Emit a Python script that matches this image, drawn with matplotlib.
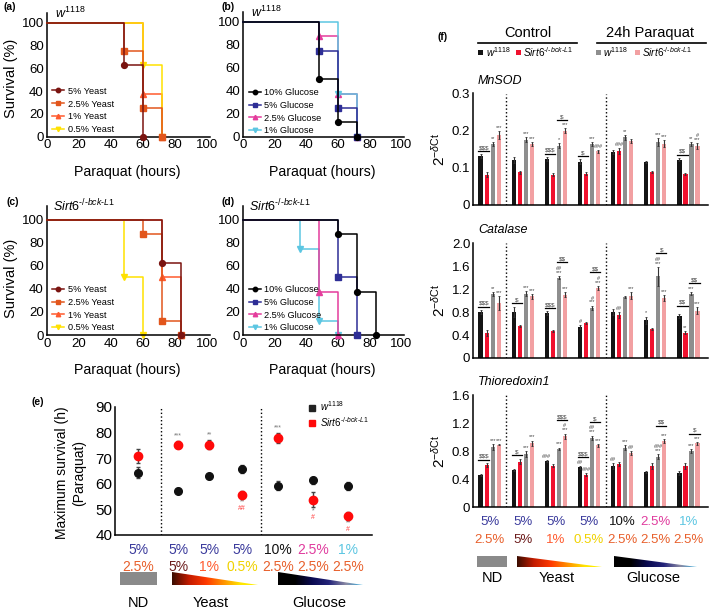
import numpy as np
import matplotlib
matplotlib.use('Agg')
import matplotlib.pyplot as plt
import matplotlib.transforms as mtransforms
from matplotlib import font_manager
from matplotlib.lines import Line2D
from matplotlib.patches import Rectangle, Polygon
from matplotlib.colors import LinearSegmentedColormap

avail = {f.name for f in font_manager.fontManager.ttflist}
base = 'Liberation Sans Narrow' if 'Liberation Sans Narrow' in avail else 'Liberation Sans'
plt.rcParams['font.family'] = [base, 'DejaVu Sans']
plt.rcParams['mathtext.fontset'] = 'custom'
plt.rcParams['mathtext.rm'] = base
plt.rcParams['mathtext.it'] = base + ':italic'
plt.rcParams['mathtext.bf'] = base + ':bold'

# ---------------- data ----------------
# survival curves: death event times (h) and % alive after each event
yeast_labels = ['5% Yeast', '2.5% Yeast', '1% Yeast', '0.5% Yeast']
yeast_colors = ['#7a1410', '#e2561c', '#ff5a2e', '#ffe100']
glucose_labels = ['10% Glucose', '5% Glucose', '2.5% Glucose', '1% Glucose']
glucose_colors = ['#000000', '#2e2e96', '#e43c9c', '#5cc6e2']
curve_markers = ['o', 's', '^', 'v']

a_times = [[48, 60], [48, 60, 72], [60, 72], [60, 72]]
a_surv = [[62.5, 0], [75, 25, 0], [37.5, 0], [62.5, 0]]
b_times = [[48, 60, 72], [48, 60, 72], [48, 60, 72], [60, 72]]
b_surv = [[50, 12.5, 0], [75, 25, 0], [87.5, 37.5, 0], [37.5, 0]]
c_times = [[72, 84], [60, 72, 84], [72, 84], [48, 60]]
c_surv = [[62.5, 0], [87.5, 12.5, 0], [50, 0], [50, 0]]
d_times = [[60, 72, 84], [60, 72], [48, 60], [36, 48, 60]]
d_surv = [[87.5, 37.5, 0], [50, 0], [37.5, 0], [75, 12.5, 0]]

# maximum survival (e)
e_w_mean = [64.4, 57.3, 62.9, 65.8, 59.2, 61.3, 59.2]
e_w_err = [2.3, 1.0, 1.0, 1.5, 1.8, 1.5, 1.5]
e_s_mean = [70.9, 75.3, 75.3, 55.8, 77.9, 53.8, 47.5]
e_s_err = [2.6, 1.5, 1.8, 1.5, 1.8, 3.0, 1.5]
e_above = {1: '***', 2: '**', 4: '***'}
e_below = {3: [('**', '#777777'), ('##', '#ff4040')],
           5: [('*', '#777777'), ('#', '#ff4040')],
           6: [('**', '#777777'), ('#', '#ff4040')]}

# diet labels (protein % / sugar %)
diet_top = ['5%', '5%', '5%', '5%', '10%', '2.5%', '1%']
diet_top_colors = ['#3a3a9c', '#3a3a9c', '#3a3a9c', '#3a3a9c', '#111111', '#e03c9e', '#5cc6e2']
diet_bot = ['2.5%', '5%', '1%', '0.5%', '2.5%', '2.5%', '2.5%']
diet_bot_colors = ['#e8602c', '#6b1a1a', '#ff5a2e', '#f0d200', '#e8602c', '#e8602c', '#e8602c']

# qPCR (f): per diet group [w1118 ctrl, Sirt6 ctrl, w1118 PQ, Sirt6 PQ]
mnsod = [[0.131, 0.082, 0.165, 0.188], [0.122, 0.088, 0.176, 0.164],
         [0.124, 0.082, 0.160, 0.200], [0.117, 0.084, 0.164, 0.145],
         [0.142, 0.145, 0.182, 0.172], [0.115, 0.089, 0.169, 0.165],
         [0.122, 0.084, 0.164, 0.158]]
mnsod_err = [[0.005, 0.006, 0.005, 0.011], [0.008, 0.004, 0.006, 0.005],
             [0.005, 0.003, 0.006, 0.006], [0.006, 0.004, 0.005, 0.004],
             [0.006, 0.008, 0.006, 0.005], [0.003, 0.003, 0.010, 0.009],
             [0.004, 0.003, 0.005, 0.008]]
catalase = [[0.80, 0.44, 1.11, 0.96], [0.80, 0.56, 1.12, 1.07],
            [0.78, 0.47, 1.40, 1.10], [0.54, 0.61, 0.87, 1.22],
            [0.80, 0.75, 1.06, 1.08], [0.66, 0.51, 1.42, 1.04],
            [0.73, 0.44, 1.12, 0.82]]
catalase_err = [[0.03, 0.05, 0.03, 0.12], [0.09, 0.02, 0.05, 0.04],
                [0.03, 0.01, 0.03, 0.04], [0.03, 0.02, 0.04, 0.03],
                [0.05, 0.05, 0.02, 0.06], [0.06, 0.02, 0.16, 0.05],
                [0.03, 0.03, 0.03, 0.06]]
thio = [[0.46, 0.60, 0.86, 0.89], [0.53, 0.65, 0.76, 0.91],
        [0.66, 0.59, 0.83, 1.01], [0.57, 0.46, 0.99, 0.88],
        [0.59, 0.62, 0.85, 0.77], [0.50, 0.59, 0.72, 0.94],
        [0.49, 0.59, 0.80, 0.91]]
thio_err = [[0.01, 0.03, 0.04, 0.01], [0.02, 0.04, 0.04, 0.04],
            [0.01, 0.02, 0.02, 0.04], [0.02, 0.02, 0.03, 0.02],
            [0.04, 0.03, 0.04, 0.03], [0.01, 0.04, 0.04, 0.03],
            [0.03, 0.04, 0.03, 0.02]]

# significance marks: (group, bar, text) and brackets (group, first bar, text)
mnsod_stars = [(0, 2, '**'), (0, 3, '***'), (1, 2, '***'), (1, 3, '***'),
               (2, 2, '*'), (2, 3, '***'), (3, 2, '***'), (3, 3, '###'),
               (4, 1, '###'), (4, 2, '**'), (5, 2, '***'), (5, 3, '***'),
               (6, 2, '**'), (6, 3, '#\n***')]
mnsod_br = [(0, 0, '$$$'), (2, 0, '$$$'), (2, 2, '$'), (3, 0, '$'), (6, 0, '$$')]
catalase_stars = [(0, 2, '**'), (0, 3, '***'), (1, 2, '***'), (1, 3, '***'),
                  (2, 2, '##\n***'), (2, 3, '***'), (3, 0, '#'), (3, 2, '#\n***'),
                  (3, 3, '#\n***'), (4, 1, '##'), (4, 3, '***'), (5, 0, '*'),
                  (5, 2, '##\n***'), (5, 3, '***'), (6, 1, '**'), (6, 2, '***'),
                  (6, 3, '***')]
catalase_br = [(0, 0, '$$$'), (1, 0, '$'), (2, 0, '$$$'), (2, 2, '$$'), (3, 2, '$$'),
               (5, 2, '$'), (6, 0, '$$'), (6, 2, '$$')]
thio_stars = [(0, 2, '***'), (0, 3, '***'), (1, 2, '***'), (1, 3, '***'),
              (2, 0, '###'), (2, 2, '***'), (2, 3, '#\n***'), (3, 0, '##'),
              (3, 1, '###'), (3, 2, '##\n***'), (3, 3, '***'), (4, 0, '##'),
              (4, 2, '***'), (4, 3, '##'), (5, 2, '###\n***'), (5, 3, '***'),
              (6, 2, '***'), (6, 3, '***')]
thio_br = [(0, 0, '$$$'), (1, 0, '$'), (2, 2, '$$$'), (3, 0, '$$$'), (3, 2, '$'),
           (5, 2, '$$'), (6, 2, '$')]

bar_colors = ['#141414', '#f0112e', '#8e8e8e', '#f2a0a2']

# ---------------- layout helpers ----------------
W, H = 709, 614
fig = plt.figure(figsize=(W / 100, H / 100), dpi=100)


def px_axes(x0, ytop, x1, ybot):
    return fig.add_axes([x0 / W, 1 - ybot / H, (x1 - x0) / W, (ybot - ytop) / H])


def ftext(x, y, s, **kw):
    return fig.text(x / W, 1 - y / H, s, **kw)


def clean(ax):
    for s in ['top', 'right']:
        ax.spines[s].set_visible(False)
    for s in ['left', 'bottom']:
        ax.spines[s].set_linewidth(1.1)
    ax.tick_params(length=0, pad=2)


def survival(box, ytop, times, surv, labels, colors, zord, title, tx, leg_xy):
    ax = px_axes(*box)
    for t, s, lab, c, m, z in zip(times, surv, labels, colors, curve_markers, zord):
        ax.step([0] + t, [100] + s, where='post', color=c, lw=1.1, zorder=z, clip_on=False)
        ax.plot(t, s, ls='none', marker=m, color=c, ms=4.2, zorder=z + 0.5, clip_on=False)
    ax.set_xlim(0, 102)
    ax.set_ylim(0, ytop)
    ax.set_xticks(range(0, 101, 20))
    ax.set_yticks(range(0, 101, 20))
    ax.tick_params(labelsize=9.5)
    clean(ax)
    handles = [Line2D([], [], color=c, marker=m, ms=3.2, lw=1.1)
               for c, m in zip(colors, curve_markers)]
    ax.legend(handles, labels, loc='lower left', bbox_to_anchor=leg_xy, fontsize=6.6,
              frameon=False, handlelength=1.3, handletextpad=0.4, labelspacing=0.42,
              borderpad=0, borderaxespad=0)
    ax.text(tx, 1.0, title, transform=ax.transAxes, fontsize=9, va='center', ha='left')
    return ax


hy = '\u2010'
w_lab = r'$\mathit{w^{1118}}$'
s_lab = r'$\mathit{Sirt6^{' + hy + '/' + hy + 'bck' + hy + 'L1}}$'

survival((46.7, 13, 210, 136.7), 108.5, a_times, a_surv, yeast_labels, yeast_colors,
         [4, 3, 1, 2], w_lab, 0.05, (0.035, 0.02))
survival((243, 12, 404, 136.7), 108.5, b_times, b_surv, glucose_labels, glucose_colors,
         [4, 3, 1, 2], w_lab, 0.05, (0.035, 0.01))
survival((46.7, 206, 210, 335), 112, c_times, c_surv, yeast_labels, yeast_colors,
         [4, 3, 2, 1], s_lab, 0.04, (0.035, 0.02))
survival((243, 206, 404, 335), 112, d_times, d_surv, glucose_labels, glucose_colors,
         [4, 3, 2, 1], s_lab, 0.04, (0.035, 0.02))

for y in [78, 278]:
    ftext(11, y, 'Survival (%)', rotation=90, fontsize=10.5, ha='center', va='center')
for x, y in [(127, 172), (322, 172), (127, 370), (322, 370)]:
    ftext(x, y, 'Paraquat (hours)', fontsize=10.2, ha='center', va='center')

for x, y, s in [(3, 7, '(a)'), (221, 7, '(b)'), (6, 202, '(c)'), (222, 202, '(d)'),
                (32, 402, '(e)'), (438, 37, '(f)')]:
    ftext(x, y, s, fontsize=7.5, fontweight='bold', ha='left', va='center')


def grad_triangle(x0, x1, ytop, ybot, cols):
    ax = px_axes(x0, ytop, x1, ybot)
    ax.set_axis_off()
    cmap = LinearSegmentedColormap.from_list('g', cols)
    grad = np.linspace(0, 1, 256).reshape(1, -1)
    im = ax.imshow(grad, cmap=cmap, aspect='auto', extent=[0, 1, 0, 1])
    tri = Polygon([[0, 0], [0, 1], [1, 0]], closed=True, transform=ax.transData)
    im.set_clip_path(tri)
    ax.set_xlim(0, 1)
    ax.set_ylim(0, 1)


yeast_grad = ['#3a0c00', '#c41c00', '#ff3a00', '#ff9200', '#ffe600', '#fff200']
glucose_grad = ['#000000', '#000000', '#0a0a50', '#24247a', '#8a8aa4', '#3aaee0']


def diet_footer(ax, xs, y1, y2, nd_box, yeast_box, glu_box, ylab, nd_x, yeast_x, glu_x, fs):
    tr = mtransforms.blended_transform_factory(ax.transData, fig.transFigure)
    for x, s, c in zip(xs, diet_top, diet_top_colors):
        ax.text(x, 1 - y1 / H, s, transform=tr, color=c, fontsize=fs, ha='center',
                va='center', clip_on=False)
    for x, s, c in zip(xs, diet_bot, diet_bot_colors):
        ax.text(x, 1 - y2 / H, s, transform=tr, color=c, fontsize=fs, ha='center',
                va='center', clip_on=False)
    x0, x1, yt, yb = nd_box
    fig.add_artist(Rectangle((x0 / W, 1 - yb / H), (x1 - x0) / W, (yb - yt) / H,
                             transform=fig.transFigure, color='#8a8a8a', lw=0))
    grad_triangle(*yeast_box, yeast_grad)
    grad_triangle(*glu_box, glucose_grad)
    for x, s in [(nd_x, 'ND'), (yeast_x, 'Yeast'), (glu_x, 'Glucose')]:
        ftext(x, ylab, s, fontsize=10.5, ha='center', va='center')


# ---------------- panel (e) ----------------
e_pos = [0, 1.18, 2.09, 3.06, 4.12, 5.15, 6.18]
ax_e = px_axes(115, 407, 372, 535)
ax_e.errorbar(e_pos, e_w_mean, yerr=e_w_err, fmt='o', color='#111111', ms=5.5,
              ecolor='#444444', elinewidth=1, capsize=1.5, zorder=3)
ax_e.errorbar(e_pos, e_s_mean, yerr=e_s_err, fmt='o', color='#ff0a0a', ms=6,
              ecolor='#444444', elinewidth=1, capsize=1.5, zorder=4)
for i, s in e_above.items():
    ax_e.text(e_pos[i], e_s_mean[i] + e_s_err[i] + 0.7, s, fontsize=5, color='#777777',
              ha='center', va='bottom')
for i, items in e_below.items():
    for k, (s, c) in enumerate(items):
        ax_e.text(e_pos[i], e_s_mean[i] - e_s_err[i] - 1.3 - 2.7 * k, s, fontsize=5,
                  color=c, ha='center', va='center')
ax_e.axvline(0.68, color='k', ls=':', lw=1)
ax_e.axvline(3.62, color='k', ls=':', lw=1)
ax_e.set_xlim(-0.68, 6.88)
ax_e.set_ylim(40, 90)
ax_e.set_xticks([])
ax_e.set_yticks(range(40, 91, 10))
ax_e.tick_params(labelsize=11)
clean(ax_e)
ax_e.legend([Line2D([], [], ls='none', marker='s', color='#222222', ms=4.5),
             Line2D([], [], ls='none', marker='s', color='#ff0a0a', ms=4.5)],
            [w_lab, s_lab], loc='upper left', bbox_to_anchor=(0.755, 1.06), fontsize=7,
            frameon=False, handlelength=0.6, handletextpad=0.5, labelspacing=0.2,
            borderpad=0, borderaxespad=0)
ftext(62, 473, 'Maximum survival (h)', rotation=90, fontsize=10, ha='center', va='center')
ftext(79, 473, '(Paraquat)', rotation=90, fontsize=10, ha='center', va='center')
diet_footer(ax_e, e_pos, 550, 567, (120, 157, 572, 585), (172, 258, 572, 585),
            (278, 363, 572, 585), 603, 138, 211, 319, 10)

# ---------------- panel (f) ----------------
groups = np.arange(7) * 5.5
offsets = [-1.5, -0.5, 0.5, 1.5]


def bar_panel(box, vals, errs, ymax, ticks, tick_labels, title, stars, brackets):
    ax = px_axes(*box)
    vals = np.array(vals)
    errs = np.array(errs)
    for b in range(4):
        ax.bar(groups + offsets[b], vals[:, b], width=0.72, color=bar_colors[b],
               yerr=errs[:, b], error_kw=dict(ecolor='#333333', elinewidth=0.8,
                                              capsize=0.8, capthick=0.6), zorder=2)
    lh = 0.045 * ymax
    nlines = {}
    for g, b, s in stars:
        y = vals[g, b] + errs[g, b] + 0.01 * ymax
        ax.text(groups[g] + offsets[b], y, s, fontsize=4, color='#444444', ha='center',
                va='bottom', linespacing=0.75, zorder=3)
        nlines[(g, b)] = s.count('\n') + 1
    for g, b, s in brackets:
        top = max(vals[g, b] + errs[g, b], vals[g, b + 1] + errs[g, b + 1])
        n = max(nlines.get((g, b), 0), nlines.get((g, b + 1), 0))
        y = top + n * lh + 0.03 * ymax
        x0 = groups[g] + offsets[b] - 0.36
        x1 = groups[g] + offsets[b + 1] + 0.36
        ax.plot([x0, x1], [y, y], color='k', lw=0.9, zorder=3)
        ax.text((x0 + x1) / 2, y + 0.008 * ymax, s.replace('$', r'\$'), fontsize=4.5,
                color='#444444', ha='center', va='bottom', zorder=3)
    for xd in [(groups[0] + groups[1]) / 2, (groups[3] + groups[4]) / 2]:
        ax.axvline(xd, color='k', ls=':', lw=1, zorder=1)
    ax.set_xlim(-2.77, 36.26)
    ax.set_ylim(0, ymax)
    ax.set_xticks([])
    ax.set_yticks(ticks)
    ax.set_yticklabels(tick_labels)
    ax.tick_params(labelsize=9.5)
    clean(ax)
    ftext(478, box[1] - 13, title, fontsize=9, style='italic', ha='left', va='center')
    ftext(439, (box[1] + box[3]) / 2, r'$2^{-\delta\mathrm{Ct}}$', rotation=90,
          fontsize=11, ha='center', va='center')
    return ax


bar_panel((473, 93.5, 708, 205), mnsod, mnsod_err, 0.3, [0, 0.1, 0.2, 0.3],
          ['0', '0.1', '0.2', '0.3'], 'MnSOD', mnsod_stars, mnsod_br)
bar_panel((473, 243, 708, 358), catalase, catalase_err, 2.0, [0, 0.4, 0.8, 1.2, 1.6, 2.0],
          ['0', '0.4', '0.8', '1.2', '1.6', '2.0'], 'Catalase', catalase_stars, catalase_br)
ax_t = bar_panel((473, 395, 708, 507), thio, thio_err, 1.6, [0, 0.4, 0.8, 1.2, 1.6],
                 ['0', '0.4', '0.8', '1.2', '1.6'], 'Thioredoxin1', thio_stars, thio_br)
diet_footer(ax_t, groups, 522, 540, (477, 507, 556, 567), (517, 602, 556, 567),
            (614, 697, 556, 567), 578, 492, 557, 653, 9.5)

# header of (f)
ftext(528, 33, 'Control', fontsize=10.5, ha='center', va='center')
ftext(650, 33, '24h Paraquat', fontsize=10.5, ha='center', va='center')
for x0, x1 in [(478, 577), (597, 706)]:
    fig.add_artist(Line2D([x0 / W, x1 / W], [1 - 43 / H, 1 - 43 / H], color='k', lw=1.2,
                          transform=fig.transFigure))
for x, c, s in [(480.5, bar_colors[0], w_lab), (518, bar_colors[1], s_lab),
                (598, bar_colors[2], w_lab), (637, bar_colors[3], s_lab)]:
    fig.add_artist(Rectangle(((x - 2.5) / W, 1 - 54.5 / H), 5 / W, 5 / H,
                             transform=fig.transFigure, color=c, lw=0))
    ftext(x + 5, 52, s, fontsize=7.2, ha='left', va='center')

fig.savefig('out.png', dpi=100)
